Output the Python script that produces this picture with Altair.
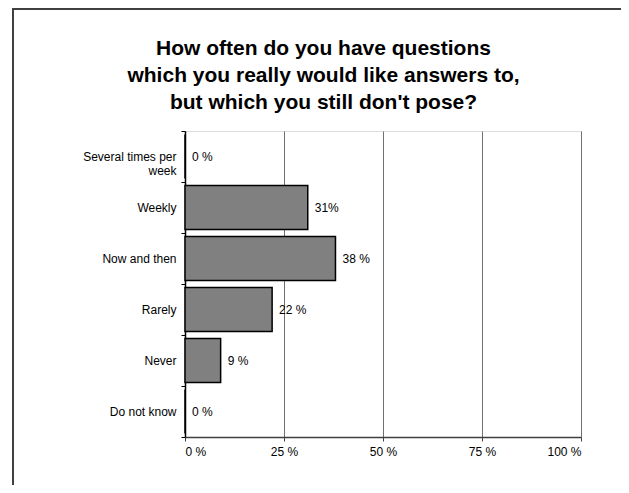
import altair as alt
import pandas as pd

categories = ["Several times per week", "Weekly", "Now and then", "Rarely", "Never", "Do not know"]
values = [0, 31, 38, 22, 9, 0]
value_labels = ["0 %", "31%", "38 %", "22 %", "9 %", "0 %"]
x_ticks = [0, 25, 50, 75, 100]
title_lines = ["How often do you have questions",
               "which you really would like answers to,",
               "but which you still don't pose?"]

df = pd.DataFrame({"category": categories, "value": values, "label": value_labels})

FONT = "Liberation Sans"

y_enc = alt.Y("category:N", sort=categories, title=None,
              scale=alt.Scale(paddingInner=0, paddingOuter=0),
              axis=alt.Axis(domainColor="#000000", domainWidth=1.5, tickColor="#000000",
                            tickSize=4, tickBand="extent", labelPadding=5,
                            labelFont=FONT, labelFontSize=12, labelColor="#000000",
                            labelLimit=200,
                            labelExpr="datum.label == 'Several times per week' ? ['Several times per', 'week'] : datum.label"))

x_enc = alt.X("value:Q", title=None,
              scale=alt.Scale(domain=[0, 100], nice=False),
              axis=alt.Axis(values=x_ticks, labelExpr="datum.value + ' %'",
                            grid=True, gridColor="#707070", gridWidth=1,
                            domainColor="#404040", domainWidth=1.5,
                            tickColor="#404040", tickSize=4, labelPadding=5,
                            labelFont=FONT, labelFontSize=12, labelColor="#000000"))

bars = alt.Chart(df).mark_bar(size=44, color="#808080", stroke="#000000", strokeWidth=1.5).encode(
    y=y_enc, x=x_enc)

texts = alt.Chart(df).mark_text(align="left", baseline="middle", dx=7, font=FONT,
                                fontSize=12, color="#000000").encode(
    y=alt.Y("category:N", sort=categories), x=alt.X("value:Q"), text="label:N")

frame_left = alt.Chart(df).mark_rule(color="#404040", strokeWidth=2).encode(
    x=alt.value(-172), y=alt.value(-123), y2=alt.value(360))
frame_top = alt.Chart(df).mark_rule(color="#404040", strokeWidth=2).encode(
    x=alt.value(-172), x2=alt.value(440), y=alt.value(-122))

title = alt.Chart(pd.DataFrame({"t": ["\n".join(title_lines)]})).mark_text(
    font=FONT, fontSize=21, fontWeight="bold", color="#000000", align="center",
    baseline="alphabetic", lineBreak="\n", lineHeight=27).encode(
    x=alt.value(138.5), y=alt.value(-76), text="t:N")

chart = alt.layer(frame_left, frame_top, title, bars, texts).properties(
    width=396, height=306,
    autosize=alt.AutoSizeParams(type="none"),
    padding={"left": 177, "top": 123, "right": 40, "bottom": 48},
).configure_view(stroke="#808080", strokeWidth=1.5).configure(background="white")

chart.save("out.html", embed_options={"renderer": "svg", "actions": False})
